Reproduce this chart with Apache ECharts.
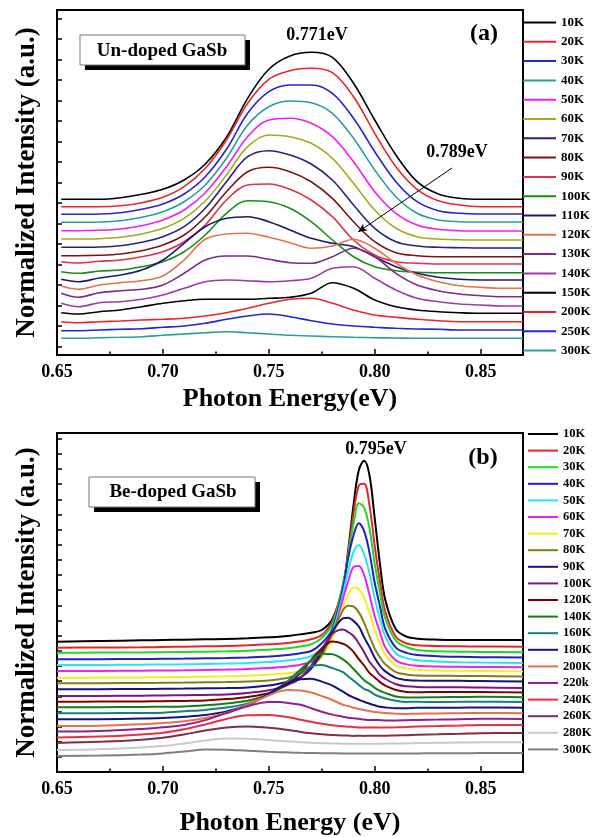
<!DOCTYPE html>
<html>
<head>
<meta charset="utf-8">
<script src="https://cdn.jsdelivr.net/npm/echarts@6.0.0/dist/echarts.min.js"></script>
<style>
  body { margin: 0; background: #fff; }
  #chart-a { width: 601px; height: 418px; }
  #chart-b { width: 601px; height: 419px; }
</style>
</head>
<body>
<div id="chart-a"></div>
<div id="chart-b"></div>
<script>
// ---- panel (a): un-doped GaSb, stacked PL spectra ----
var energyA = [0.652,0.66,0.67,0.68,0.69,0.70,0.71,0.72,0.73,0.74,0.75,0.76,0.77,0.78,0.79,0.80,0.81,0.82,0.83,0.84,0.85,0.86,0.87];
var tempsA = ['10K','20K','30K','40K','50K','60K','70K','80K','90K','100K','110K','120K','130K','140K','150K','200K','250K','300K'];

var a10K  = [155.7,155.7,155.7,157.3,160.7,165.7,175,191,217.7,256.7,285.7,299,302.7,297.7,271.7,235,200,173.3,161,156.7,155.7,155.7,155.7];
var a20K  = [148.3,148.3,148.3,149.3,152.3,157.7,168.3,186.7,215,251.7,275.7,284.3,286.7,282.3,258.3,221.7,188.3,165.7,154.3,150,148.3,148.3,148.3];
var a30K  = [140.7,140.7,141,142.3,145.7,151,161,178.3,205.7,241.7,263.3,270,270,261.7,236.7,203.3,173.3,153.3,144.3,141.7,141,141,141];
var a40K  = [132.7,132.7,133,134.3,137.7,143.3,153.3,170,196.7,230,248.3,254,252.3,241.7,216.7,185,158.3,141.7,135,133.3,133,133,133];
var a50K  = [124.3,124.3,124.7,126,129.3,135,145,162.3,188.3,218.3,235,236.7,231.7,218.3,193.3,163.3,141.7,130,125.7,124.3,124,124,124];
var a60K  = [116,116,116.3,117.7,121,126.7,136.7,154,180,208.3,220,218.3,211.7,196.7,171.7,145,126.7,118.3,116,115.3,115,115,115];
var a70K  = [107.7,107.7,108,109.3,112.7,118.3,128.3,146.7,173.3,198.3,204.3,200,191,175,150,126.7,113.3,109,107.7,107.3,107,107,107];
var a80K  = [99.3,99.3,99.7,101,104.3,110,120,138.3,163.3,183.3,187.7,183.3,173.3,156.7,133.3,113.3,102.3,99.3,98.3,98.3,98.3,98.3,98.3];
var a90K  = [93.3,92,93.7,95,98.3,103.3,113.3,130,155,170,171,165.7,155,138.3,115,100,93.3,91.7,91,91,91,91,91];
var a100K = [83.3,81.7,84,85,88.3,93.3,103.3,120,141.7,154.3,153.3,146.7,133.3,115,98.3,88.3,84.3,82.7,82.3,82.3,82.3,82.3,82.3];
var a110K = [75.7,73.3,77,80,85,95,111.7,128.3,136.7,138.3,133.3,125,116.7,111.7,108.3,98.3,88.3,81.7,77.7,75.7,75,75,75];
var a120K = [69,65.7,70,72.3,74.3,79,95,115.7,121,121.7,117.7,112.3,106.7,109,115.7,106.7,91.7,80,73.3,69.3,67.7,66.7,66.7];
var a130K = [61.7,57.7,62.3,64.3,65.7,70,81.7,95,99,99,95.7,92.3,91.7,98.3,106.7,98.3,81.7,70,64.3,61,59.3,58.3,58.3];
var a140K = [51.7,48.3,52.3,53.3,55.7,60,66.7,73.3,75,74.3,73.3,74.3,76.7,86.7,88.3,76.7,65,56.7,53.3,51,50,49,49];
var a150K = [42.3,41,43.3,45,48.3,51.7,54.3,55.7,55.7,55.7,56.7,57.7,61.7,72.3,66.7,55,48.3,45,43.3,42.3,41.7,41.7,41.7];
var a200K = [33.3,32.3,33.3,34,35,35.7,36.7,39,42.3,46.7,51.7,55.7,56.7,51.7,45,40,37.7,35.7,34.3,33.3,33.3,33.3,33.3];
var a250K = [24.3,24.3,25,25.7,26.3,27.7,29,31.7,35.7,39,41,38.3,34.3,31,29,27.7,26.7,26,25.7,25,25,25,25];
var a300K = [16.7,16.7,17.3,17.7,18.3,19.7,21,22.3,23.3,22.3,21,19.7,19,18.3,17.7,17.3,17,16.7,16.7,16.7,16.7,16.7,16.7];
var curvesA = [a10K,a20K,a30K,a40K,a50K,a60K,a70K,a80K,a90K,a100K,a110K,a120K,a130K,a140K,a150K,a200K,a250K,a300K];
var colorsA = ['#000000','#e8262a','#2323d8','#2a9d9d','#f01ef0','#a8a820','#232383','#7a1515','#e0304a','#149014','#1a1a6a','#e8704a','#7d2a8c','#9b3aa8','#000000','#e8262a','#2323d8','#2a9d9d'];

// ---- panel (b): Be-doped GaSb ----
var energyB = [0.65,0.67,0.69,0.70,0.71,0.72,0.73,0.74,0.75,0.755,0.76,0.765,0.77,0.775,0.78,0.785,0.7875,0.79,0.7925,0.795,0.7975,0.80,0.8025,0.805,0.81,0.815,0.82,0.83,0.84,0.85,0.87];
var tempsB = ['10K','20K','30K','40K','50K','60K','70K','80K','90K','100K','120K','140K','160K','180K','200K','220k','240K','260K','280K','300K'];

var b10K  = [130.3,131,131.7,132,132.3,132.7,133,133.7,134.7,135.3,136.3,137.7,139.3,142,152.7,185.3,222,267,302,311.3,297,253.7,207.7,172,142.7,135.3,133.3,132.3,132,132,132];
var b20K  = [124.3,124.5,124.7,125,125.3,125.7,126,126.7,127.7,128.3,129.3,130.7,132.7,137,150.3,186.5,219.3,258.7,286.6,288.2,266.9,225.9,189.8,160.3,135.2,128.5,126.7,126,125.7,125.5,125.3];
var b30K  = [119.3,119.4,119.6,119.8,120,120.3,120.7,121.3,122.3,123,124,125.5,127.7,134,147.6,187.5,217.1,248.1,268.8,264.4,243.7,208.2,178.7,153.5,131.4,125,122,120.7,120.3,120,119.8];
var b40K  = [112.7,112.8,113,113.2,113.4,113.7,114,114.6,115.5,116.2,117.2,118.7,121,128.7,142.9,183.9,214.3,236.8,248.7,240.8,219.6,189.2,165.4,142.9,124.4,119.1,117,115.8,115.2,114.8,114.5];
var b50K  = [107,107.1,107.3,107.5,107.7,108,108.4,109,110,110.7,111.7,113.2,116,123.5,140,178.3,201.5,220,227,217.7,199.2,173.6,152.8,135.4,118.5,113.9,111.8,110.5,109.8,109.4,109];
var b60K  = [101,101.1,101.3,101.5,101.7,102,102.4,103,104,104.7,105.7,107.3,110.5,118.3,135.6,173.3,190.7,205,206,196.8,177.4,156,139.7,124.4,111.6,107.6,106.3,105.5,105.2,105,104.7];
var b70K  = [94.3,94.4,94.6,94.8,95,95.3,95.7,96.3,97.3,98,99,101,105,115.4,134.4,165.5,177.5,184.4,182.7,174.1,159.4,142.2,128.3,117.1,106.5,103.5,102.3,101.5,101.2,101,100.5];
var b80K  = [88.7,88.8,89,89.2,89.4,89.7,90,90.5,91.5,92.8,94.8,98.3,105.1,116.7,138.9,161.8,166.3,165.5,159.6,149.2,135.9,123.3,114.5,107.8,99.9,97.6,96.5,96.3,96.1,96,95.5];
var b90K  = [82.7,82.8,83,83.2,83.4,83.7,84,84.6,86.4,88.4,91,94.8,103.5,120.3,140,153.6,154.3,150.9,145.5,134.6,125.1,114.2,106,100.6,94.1,92.1,91.4,91.3,91.2,91,90.5];
var b100K = [76,76.1,76.3,76.5,76.8,77.1,77.5,79,81.7,84.4,88.1,94.1,106.5,122.8,138,142.4,139.9,136,128.5,119.7,110.2,103.9,97,93.1,87.8,85.7,85.1,84.7,84.7,84.5,84];
var b120K = [70.3,70.4,70.6,70.8,71.1,71.5,72.9,75.1,78.7,83.2,89.4,99.1,112.2,123.6,130.4,128.2,125.3,120.2,112.8,106.5,99.1,94.5,89.9,86.4,82,80.1,79.7,80.1,80,80,79.5];
var b140K = [64.7,64.8,65,65.3,65.6,66.8,68.6,71.2,77.6,83.5,93,102.5,111.6,118.2,117.7,112.6,108.6,103,97.4,91.8,88.3,84.2,81.2,79.1,75.6,74.5,74.5,74.8,75,75.2,74.8];
var b160K = [58.7,58.8,59,59.3,60.7,62.1,64.4,68.6,77.1,84.7,92.3,99.9,105.7,107,103.9,99.9,95.5,91.5,87.1,83.1,80.9,77.4,75.2,73.5,71.3,70.1,70.2,69.9,70.2,70.3,70];
var b180K = [52.7,52.8,53.4,53.9,55.2,57,60.6,67,78.1,84.5,89.8,92.8,93.3,90.4,86.4,80.3,77,74.5,72.3,70.2,68.4,66.7,65.2,64.6,63.8,63.7,64.2,64.2,64.3,64.5,64.2];
var b200K = [46,46.3,47.8,49,50.8,54,59.2,67.6,76.6,80.6,82,81.6,79.5,75.9,72,67.2,65.9,64.3,63.1,61.9,60.9,60,59.4,59.1,58.2,58.1,58.3,58.6,58.8,59,58.7];
var b220K = [40.4,41,43.1,44.7,47.1,51.9,58.9,65.8,70,70,68.7,67.3,63.7,60.3,57.4,55.3,54.3,53.7,53.2,52.5,52,52.1,51.8,51.6,51.6,51.8,52.1,52.4,52.8,53.2,53];
var b240K = [34.6,35.4,37.6,39.3,42.8,47.6,53.1,56.8,57,56.1,54.4,52.3,50.2,48.3,46.8,45.7,45.3,45,44.6,44.5,44.5,44.4,44.4,44.5,44.7,45,45.4,45.9,46.4,47,47];
var b260K = [29.1,30.2,32.3,34.2,37.6,41.5,44.5,45.4,44.2,43.3,41.7,40.1,38.8,37.8,37,36.5,36.4,36.1,36.2,36.1,36.2,36.2,36.3,36.3,36.6,36.8,37.2,37.7,38.2,38.8,39];
var b280K = [22,22.8,24.5,26,28.5,31.5,33.5,33.3,32,31.2,30.5,29.8,29.2,28.8,28.5,28.3,28.2,28.2,28.2,28.2,28.2,28.3,28.3,28.4,28.5,28.7,28.9,29.2,29.5,29.7,29.8];
var b300K = [16,16.4,17.5,18.6,20.5,22.5,22.3,21.2,20.2,19.8,19.5,19.2,19,18.8,18.7,18.6,18.6,18.5,18.5,18.5,18.5,18.5,18.5,18.5,18.5,18.6,18.6,18.7,18.8,18.9,19];
var curvesB = [b10K,b20K,b30K,b40K,b50K,b60K,b70K,b80K,b90K,b100K,b120K,b140K,b160K,b180K,b200K,b220K,b240K,b260K,b280K,b300K];
var colorsB = ['#000000','#e8262a','#22d822','#2020c0','#22e8f0','#f020f0','#f0f020','#808014','#141480','#801480','#800000','#148014','#148080','#141480','#e8704a','#902090','#e83040','#803040','#c8c8c8','#808080'];

// axis ticks
var xTickLabels = [0.65, 0.70, 0.75, 0.80, 0.85];
var yTicksA = [8.5,29,49.5,70,90.5,111,131.5,152,172.5,193,213.5,234,254.5,275,295.5,316,336.5];

// annotation arrow in (a), data coordinates
var arrowFrom = [0.8365, 187];
var arrowTo = [0.7921, 123];

var FONT = '"Liberation Serif", "Times New Roman", serif';

function buildSeries(energy, curves, names, colors, width) {
  return names.map(function (n, i) {
    return {
      name: n,
      type: 'line',
      data: energy.map(function (e, j) { return [e, curves[i][j]]; }),
      symbol: 'none',
      smooth: 0.35,
      silent: true,
      lineStyle: { width: width, color: colors[i] },
      itemStyle: { color: colors[i] }
    };
  });
}

function xAxisCfg(name, gap) {
  return {
    type: 'value', min: 0.65, max: 0.87, interval: 0.05,
    name: name, nameLocation: 'middle', nameGap: gap,
    nameTextStyle: { fontFamily: FONT, fontWeight: 'bold', fontSize: 26, color: '#000' },
    axisLine: { lineStyle: { color: '#000', width: 2 } },
    axisTick: { inside: true, length: 6, lineStyle: { color: '#000', width: 1.5 } },
    minorTick: { show: true, splitNumber: 2, length: 3.5, lineStyle: { color: '#000', width: 1.5 } },
    splitLine: { show: false },
    axisLabel: {
      margin: 8, showMaxLabel: false, fontFamily: FONT, fontWeight: 'bold', fontSize: 18, color: '#000',
      formatter: function (v) {
        return xTickLabels.some(function (t) { return Math.abs(t - v) < 1e-6; }) ? v.toFixed(2) : '';
      }
    }
  };
}

function legendCfg(names, left, top, itemWidth, gap, fs, lh) {
  return {
    orient: 'vertical', left: left, top: top, padding: 0,
    icon: 'rect', itemWidth: itemWidth, itemHeight: 2, itemGap: gap,
    selectedMode: false, data: names,
    textStyle: { fontFamily: FONT, fontWeight: 'bold', fontSize: fs, lineHeight: lh, color: '#000' }
  };
}

function boxLabel(x, y, w, h, text, cx, cy) {
  return [
    { type: 'rect', shape: { x: x + 5, y: y + 5, width: w, height: h }, style: { fill: '#000' } },
    { type: 'rect', shape: { x: x, y: y, width: w, height: h }, style: { fill: '#fff', stroke: '#777', lineWidth: 1 } },
    { type: 'text', x: cx, y: cy, style: { text: text, font: 'bold 19px ' + FONT, fill: '#000', align: 'center', verticalAlign: 'middle' } }
  ];
}

function plainText(text, cx, cy, size) {
  return { type: 'text', x: cx, y: cy, style: { text: text, font: 'bold ' + size + 'px ' + FONT, fill: '#000', align: 'center', verticalAlign: 'middle' } };
}

// ---- chart (a) ----
var chartA = echarts.init(document.getElementById('chart-a'), null, { renderer: 'canvas' });
var seriesA = buildSeries(energyA, curvesA, tempsA, colorsA, 1.6);
seriesA[0].markLine = {
  silent: true, symbol: ['none', 'arrow'], symbolSize: [6, 9],
  lineStyle: { color: '#000', width: 1, type: 'solid' }, label: { show: false },
  data: [[{ coord: arrowFrom }, { coord: arrowTo }]]
};
chartA.setOption({
  animation: false,
  backgroundColor: '#fff',
  grid: { left: 57, top: 10, right: 78, height: 345, show: true, borderColor: '#000', borderWidth: 2, outerBoundsMode: 'none' },
  xAxis: xAxisCfg('Photon Energy(eV)', 29),
  yAxis: {
    type: 'value', min: 0, max: 345,
    name: 'Normalized Intensity (a.u.)', nameLocation: 'middle', nameGap: 16,
    nameTextStyle: { fontFamily: FONT, fontWeight: 'bold', fontSize: 27, color: '#000' },
    axisLine: { show: true, lineStyle: { color: '#000', width: 2 } },
    axisTick: { show: true, inside: true, length: 5, customValues: yTicksA, lineStyle: { color: '#000', width: 1.5 } },
    axisLabel: { show: false },
    splitLine: { show: false }
  },
  legend: legendCfg(tempsA, 523, 15, 33, 4.3, 13, 15),
  graphic: boxLabel(80, 35, 165, 30, 'Un-doped GaSb', 162, 51)
    .concat([plainText('(a)', 484, 34, 24), plainText('0.771eV', 317, 35, 18), plainText('0.789eV', 457, 152, 18)]),
  series: seriesA
});

// ---- chart (b) ----
var chartB = echarts.init(document.getElementById('chart-b'), null, { renderer: 'canvas' });
chartB.setOption({
  animation: false,
  backgroundColor: '#fff',
  grid: { left: 57, top: 15, right: 78, height: 339, show: true, borderColor: '#000', borderWidth: 2, outerBoundsMode: 'none' },
  xAxis: xAxisCfg('Photon Energy (eV)', 38),
  yAxis: {
    type: 'value', min: 0, max: 339, interval: 15.15,
    name: 'Normalized Intensity (a.u.)', nameLocation: 'middle', nameGap: 16,
    nameTextStyle: { fontFamily: FONT, fontWeight: 'bold', fontSize: 27, color: '#000' },
    axisLine: { show: true, lineStyle: { color: '#000', width: 2 } },
    axisTick: { show: true, inside: true, length: 5, lineStyle: { color: '#000', width: 1.5 } },
    axisLabel: { show: false },
    splitLine: { show: false }
  },
  legend: legendCfg(tempsB, 528, 9, 30, 2.6, 12.5, 14),
  graphic: boxLabel(89, 59, 166, 30, 'Be-doped GaSb', 173, 74)
    .concat([plainText('(b)', 483, 40, 24), plainText('0.795eV', 376, 31, 18)]),
  series: buildSeries(energyB, curvesB, tempsB, colorsB, 2)
});

window.addEventListener('resize', function () { chartA.resize(); chartB.resize(); });
</script>
</body>
</html>
